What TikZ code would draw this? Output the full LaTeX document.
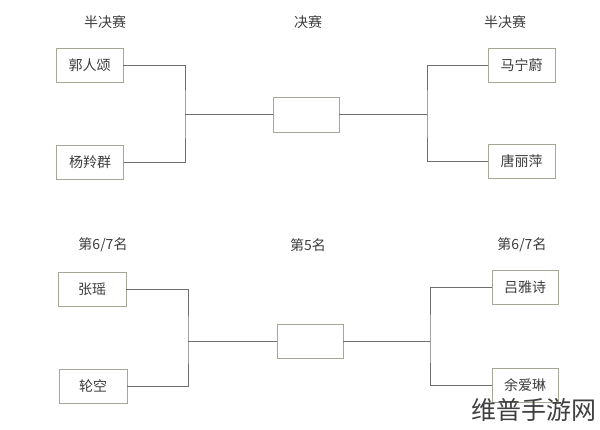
\documentclass[tikz,border=0pt]{standalone}
\usepackage{fontspec}
\usepackage{xcolor}
\usepackage{tikz}
\setmainfont{Noto Sans CJK SC}
\definecolor{boxline}{RGB}{165,168,150}
\definecolor{wire}{RGB}{110,110,110}
\definecolor{ink}{RGB}{60,60,60}

\begin{document}
\begin{tikzpicture}[x=1pt,y=-1pt,
  player/.style={draw=boxline,thick,fill=white,minimum width=67pt,minimum height=34pt,inner sep=0pt,text=ink,font=\fontsize{14}{14}\selectfont},
  round/.style={text=ink,font=\fontsize{14}{14}\selectfont},
  wire/.style={draw=wire,thick}]
\useasboundingbox (0,0) rectangle (600,430);

% titles
\node[round] (semiL) at (105,22) {半决赛};
\node[round] (finT) at (308,22) {决赛};
\node[round] (semiR) at (505,22) {半决赛};
\node[round] (placeL) at (103,245) {第6/7名};
\node[round] (fifthT) at (308,245) {第5名};
\node[round] (placeR) at (522,245) {第6/7名};

% top bracket
\node[player] (gry) at (89.5,65) {郭人颂};
\node[player] (ylq) at (90,162) {杨羚群};
\node[player,minimum width=66pt,minimum height=35pt] (final) at (306,114.5) {};
\node[player] (mnw) at (521.5,65) {马宁蔚};
\node[player] (tlp) at (521.5,161.5) {唐丽萍};
\coordinate (jl) at (185,114.5);
\coordinate (jr) at (427,114.5);
\draw[wire] (gry.east) -| (jl) |- (ylq.east);
\draw[wire] (jl) -- (final.west);
\draw[wire] (mnw.west) -| (jr) |- (tlp.west);
\draw[wire] (final.east) -- (jr);

% bottom bracket
\node[player,minimum width=68pt] (zy) at (92,289.5) {张瑶};
\node[player,minimum width=68pt] (lk) at (93,386.5) {轮空};
\node[player,minimum width=66pt] (fifth) at (310,341) {};
\node[player,minimum width=66pt] (lys) at (525,287) {吕雅诗};
\node[player,minimum width=66pt] (yal) at (525,385.5) {余爱琳};
\coordinate (jl2) at (188,341);
\coordinate (jr2) at (430,341);
\draw[wire] (zy.east) -| (jl2) |- (lk.east);
\draw[wire] (jl2) -- (fifth.west);
\draw[wire] (lys.west) -| (jr2) |- (yal.west);
\draw[wire] (fifth.east) -- (jr2);

% watermark
\node[text=black!75,font=\fontsize{25}{25}\selectfont,anchor=east] (mark) at (600,410) {维普手游网};
\end{tikzpicture}
\end{document}
